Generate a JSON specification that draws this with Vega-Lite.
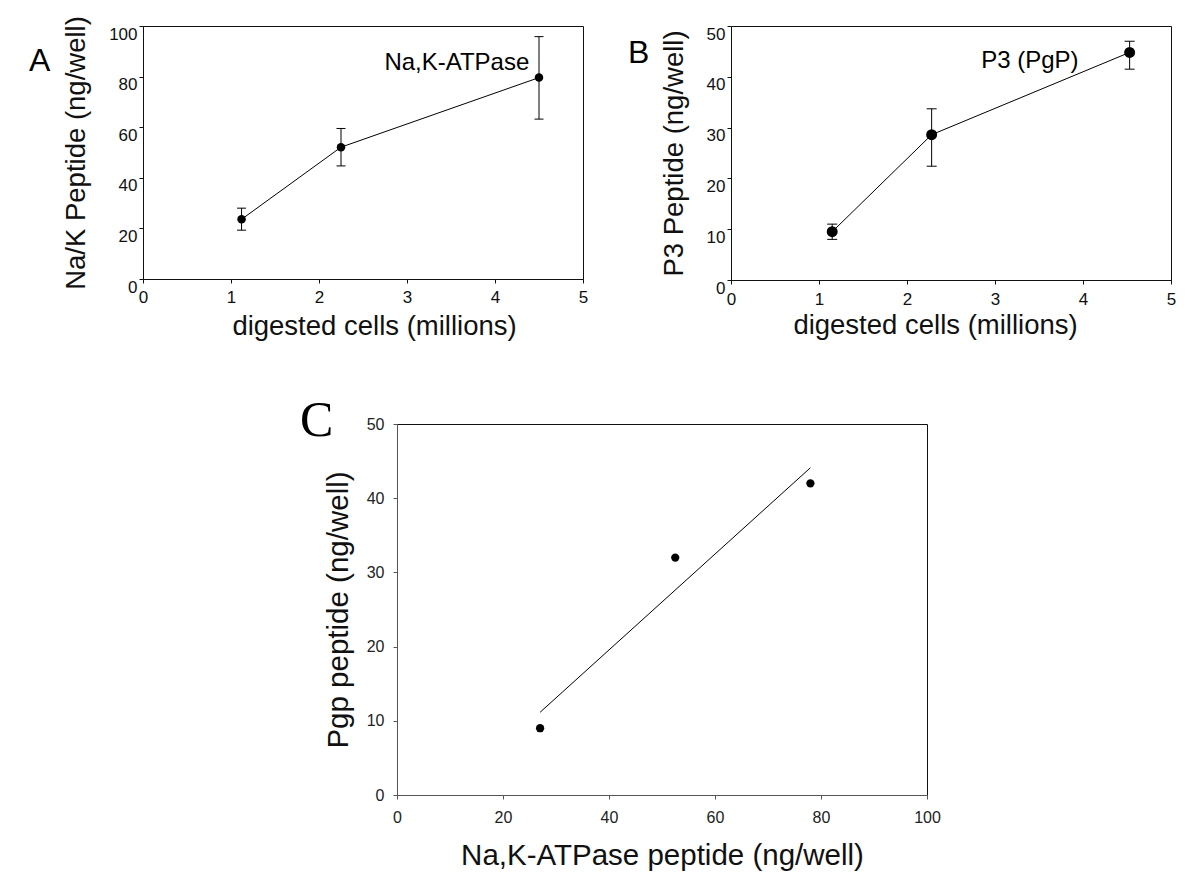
{
  "$schema": "https://vega.github.io/schema/vega-lite/v6.json",
  "background": "white",
  "padding": {"left": 28, "top": 15, "right": 10, "bottom": 5},
  "config": {
    "view": {"stroke": "#111", "strokeWidth": 1},
    "axis": {
      "grid": false,
      "domainColor": "#111",
      "tickColor": "#111",
      "labelColor": "#111",
      "titleColor": "#111",
      "labelFont": "Liberation Sans",
      "titleFont": "Liberation Sans",
      "titleFontWeight": "normal",
      "tickSize": 4,
      "labelOverlap": false,
      "labelFlush": false,
      "format": "d"
    }
  },
  "datasets": {
    "naK": [
      {"cells": 1.12, "peptide": 23.6, "lo": 19.3, "hi": 28.0},
      {"cells": 2.25, "peptide": 52.1, "lo": 44.7, "hi": 59.5},
      {"cells": 4.5, "peptide": 79.6, "lo": 63.2, "hi": 95.8}
    ],
    "p3": [
      {"cells": 1.15, "peptide": 9.5, "lo": 8.0, "hi": 11.0},
      {"cells": 2.28, "peptide": 28.6, "lo": 22.4, "hi": 33.7},
      {"cells": 4.53, "peptide": 44.8, "lo": 41.5, "hi": 47.0}
    ],
    "corr": [
      {"nak": 27.0, "pgp": 9.0},
      {"nak": 52.5, "pgp": 32.0},
      {"nak": 78.0, "pgp": 42.0}
    ],
    "fit": [
      {"nak": 27.0, "pgp": 11.15},
      {"nak": 78.0, "pgp": 44.1}
    ]
  },
  "bounds": "flush",
  "spacing": 398,
  "vconcat": [
    {
      "bounds": "flush",
      "spacing": 148,
      "hconcat": [
        {
          "width": 440,
          "height": 253,
          "title": {"text": "A", "anchor": "start", "frame": "group", "orient": "top", "font": "Liberation Sans", "fontSize": 32, "fontWeight": "normal", "color": "black", "baseline": "top", "offset": 0, "dx": -114, "dy": 62},
          "data": {"name": "naK"},
          "layer": [
            {
              "mark": {"type": "line", "color": "black", "strokeWidth": 1},
              "encoding": {
                "x": {"field": "cells", "type": "quantitative", "scale": {"domain": [0, 5]},
                      "axis": {"values": [0, 1, 2, 3, 4, 5], "labelFontSize": 17, "labelPadding": 6, "title": "digested cells (millions)", "titleFontSize": 27.5, "titlePadding": 7, "titleX": 231}},
                "y": {"field": "peptide", "type": "quantitative", "scale": {"domain": [0, 100]},
                      "axis": {"values": [0, 20, 40, 60, 80, 100], "labelFontSize": 17, "labelPadding": 2, "labelBaseline": "top", "title": "Na/K Peptide (ng/well)", "titleFontSize": 27.5, "titlePadding": 18}}
              }
            },
            {
              "mark": {"type": "errorbar", "color": "black", "opacity": 1, "thickness": 1, "rule": {"color": "black", "opacity": 1}, "ticks": {"size": 9, "color": "black", "opacity": 1, "thickness": 1}},
              "encoding": {
                "x": {"field": "cells", "type": "quantitative"},
                "y": {"field": "lo", "type": "quantitative", "title": "Na/K Peptide (ng/well)"},
                "y2": {"field": "hi"}
              }
            },
            {
              "mark": {"type": "point", "filled": true, "color": "black", "opacity": 1, "size": 72},
              "encoding": {
                "x": {"field": "cells", "type": "quantitative"},
                "y": {"field": "peptide", "type": "quantitative", "title": "Na/K Peptide (ng/well)"}
              }
            },
            {
              "data": {"values": [{}]},
              "mark": {"type": "text", "text": "Na,K-ATPase", "align": "right", "baseline": "middle", "font": "Liberation Sans", "fontSize": 24, "color": "black"},
              "encoding": {
                "x": {"datum": 4.39, "type": "quantitative"},
                "y": {"datum": 85.5, "type": "quantitative"}
              }
            }
          ]
        },
        {
          "width": 440,
          "height": 254,
          "title": {"text": "B", "anchor": "start", "frame": "group", "orient": "top", "font": "Liberation Sans", "fontSize": 32, "fontWeight": "normal", "color": "black", "baseline": "top", "offset": 0, "dx": -103, "dy": 45},
          "data": {"name": "p3"},
          "layer": [
            {
              "mark": {"type": "line", "color": "black", "strokeWidth": 1},
              "encoding": {
                "x": {"field": "cells", "type": "quantitative", "scale": {"domain": [0, 5]},
                      "axis": {"values": [0, 1, 2, 3, 4, 5], "labelFontSize": 17, "labelPadding": 7, "title": "digested cells (millions)", "titleFontSize": 27.5, "titlePadding": 4, "titleX": 204}},
                "y": {"field": "peptide", "type": "quantitative", "scale": {"domain": [0, 50]},
                      "axis": {"values": [0, 10, 20, 30, 40, 50], "labelFontSize": 17, "labelPadding": 2, "labelBaseline": "top", "title": "P3 Peptide (ng/well)", "titleFontSize": 27.5, "titlePadding": 18}}
              }
            },
            {
              "mark": {"type": "errorbar", "color": "black", "opacity": 1, "thickness": 1, "rule": {"color": "black", "opacity": 1}, "ticks": {"size": 10, "color": "black", "opacity": 1, "thickness": 1}},
              "encoding": {
                "x": {"field": "cells", "type": "quantitative"},
                "y": {"field": "lo", "type": "quantitative", "title": "P3 Peptide (ng/well)"},
                "y2": {"field": "hi"}
              }
            },
            {
              "mark": {"type": "point", "filled": true, "color": "black", "opacity": 1, "size": 120},
              "encoding": {
                "x": {"field": "cells", "type": "quantitative"},
                "y": {"field": "peptide", "type": "quantitative", "title": "P3 Peptide (ng/well)"}
              }
            },
            {
              "data": {"values": [{}]},
              "mark": {"type": "text", "text": "P3 (PgP)", "align": "right", "baseline": "middle", "font": "Liberation Sans", "fontSize": 24, "color": "black"},
              "encoding": {
                "x": {"datum": 3.95, "type": "quantitative"},
                "y": {"datum": 43.1, "type": "quantitative"}
              }
            }
          ]
        }
      ]
    },
    {
      "bounds": "flush",
      "spacing": 0,
      "hconcat": [
        {
          "width": 254,
          "height": 1,
          "view": {"stroke": null},
          "data": {"values": []},
          "mark": {"type": "point", "opacity": 0}
        },
        {
          "width": 530,
          "height": 371,
          "title": {"text": "C", "anchor": "start", "frame": "group", "orient": "top", "font": "Liberation Serif", "fontSize": 50, "fontWeight": "normal", "color": "black", "baseline": "top", "offset": 0, "dx": -97, "dy": 30},
          "layer": [
            {
              "data": {"name": "fit"},
              "mark": {"type": "line", "color": "black", "strokeWidth": 1},
              "encoding": {
                "x": {"field": "nak", "type": "quantitative", "scale": {"domain": [0, 100]},
                      "axis": {"values": [0, 20, 40, 60, 80, 100], "domainColor": "#555", "tickColor": "#555", "labelColor": "#222", "labelFontSize": 16, "labelPadding": 10, "title": "Na,K-ATPase peptide (ng/well)", "titleFontSize": 29.5, "titlePadding": 16}},
                "y": {"field": "pgp", "type": "quantitative", "scale": {"domain": [0, 50]},
                      "axis": {"values": [0, 10, 20, 30, 40, 50], "domainColor": "#555", "tickColor": "#555", "labelColor": "#222", "labelFontSize": 16, "labelPadding": 9, "title": "Pgp peptide (ng/well)", "titleFontSize": 29.5, "titlePadding": 13}}
              }
            },
            {
              "data": {"name": "corr"},
              "mark": {"type": "point", "filled": true, "color": "black", "opacity": 1, "size": 68},
              "encoding": {
                "x": {"field": "nak", "type": "quantitative", "title": "Na,K-ATPase peptide (ng/well)"},
                "y": {"field": "pgp", "type": "quantitative", "title": "Pgp peptide (ng/well)"}
              }
            }
          ]
        }
      ]
    }
  ]
}
